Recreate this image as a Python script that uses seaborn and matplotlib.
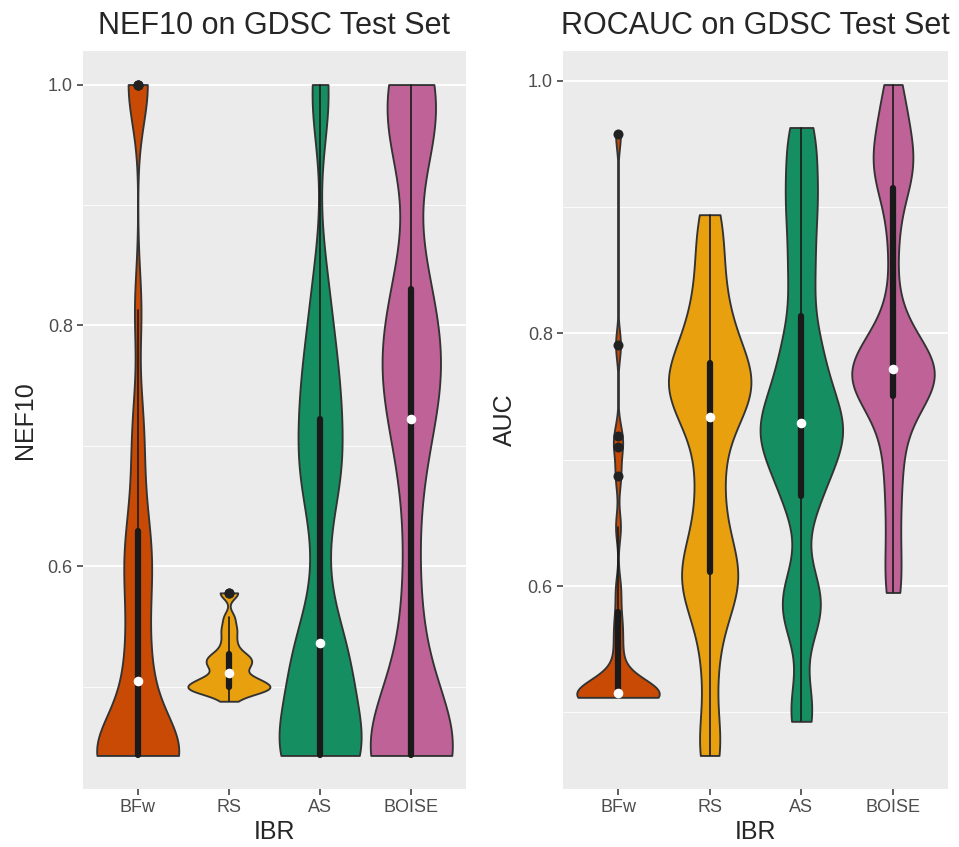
import numpy as np
import pandas as pd
import seaborn as sns
import matplotlib.pyplot as plt
from matplotlib.cbook import boxplot_stats

methods = ["BFw", "RS", "AS", "BOISE"]
fills = ["#C94A04", "#E8A00F", "#158F61", "#BF6297"]

# NEF10 per drug on the GDSC test set
nef10_bfw = [0.443] * 12 + [0.485, 0.500, 0.510, 0.532, 0.556, 0.578, 0.597, 0.611,
                            0.622, 0.650, 0.690, 0.725, 0.813, 1.0, 1.0, 1.0]
nef10_rs = [0.488, 0.495, 0.496, 0.497, 0.498, 0.498, 0.499, 0.500, 0.501, 0.503,
            0.505, 0.506, 0.507, 0.508, 0.515, 0.516, 0.518, 0.521, 0.523, 0.525,
            0.526, 0.531, 0.537, 0.544, 0.550, 0.558, 0.578, 0.578]
nef10_as = [0.443] * 8 + [0.478, 0.497, 0.510, 0.520, 0.527, 0.532, 0.540, 0.598,
                          0.655, 0.672, 0.684, 0.694, 0.716, 0.740, 0.752, 0.768,
                          0.800, 0.835, 0.985, 1.0]
nef10_boise = [0.443] * 8 + [0.472, 0.505, 0.540, 0.600, 0.672, 0.706, 0.738, 0.748,
                             0.758, 0.770, 0.785, 0.805, 0.825, 0.845, 0.950, 0.965,
                             0.980, 0.990, 1.0, 1.0]

# ROC AUC per drug on the GDSC test set
auc_bfw = [0.512, 0.512, 0.513, 0.513, 0.513, 0.513, 0.513, 0.514, 0.514, 0.514,
           0.514, 0.514, 0.515, 0.515, 0.516, 0.519, 0.524, 0.531, 0.545, 0.560,
           0.574, 0.597, 0.647, 0.687, 0.710, 0.719, 0.791, 0.958]
auc_rs = [0.466, 0.482, 0.531, 0.568, 0.588, 0.598, 0.604, 0.614, 0.622, 0.634,
          0.660, 0.680, 0.706, 0.727, 0.741, 0.748, 0.753, 0.758, 0.763, 0.768,
          0.773, 0.786, 0.797, 0.810, 0.828, 0.850, 0.875, 0.894]
auc_as = [0.493, 0.509, 0.570, 0.580, 0.590, 0.605, 0.660, 0.675, 0.688, 0.700,
          0.710, 0.716, 0.721, 0.726, 0.732, 0.741, 0.751, 0.762, 0.775, 0.790,
          0.806, 0.838, 0.858, 0.885, 0.905, 0.922, 0.948, 0.963]
auc_boise = [0.595, 0.615, 0.650, 0.680, 0.705, 0.726, 0.746, 0.752, 0.758, 0.763,
             0.766, 0.769, 0.770, 0.771, 0.773, 0.778, 0.786, 0.795, 0.818, 0.870,
             0.912, 0.925, 0.930, 0.938, 0.948, 0.962, 0.980, 0.997]

panels = [
    ("NEF10 on GDSC Test Set", "NEF10", [nef10_bfw, nef10_rs, nef10_as, nef10_boise]),
    ("ROCAUC on GDSC Test Set", "AUC", [auc_bfw, auc_rs, auc_as, auc_boise]),
]


def nrd0(kde):
    # R's bw.nrd0, given back as a factor of the sample sd (what scipy wants)
    x = kde.dataset[0]
    sd = x.std(ddof=1)
    q1, q3 = np.percentile(x, [25, 75])
    return 0.9 * min(sd, (q3 - q1) / 1.34) * len(x) ** -0.2 / sd


sns.set_theme(style="darkgrid", rc={
    "axes.facecolor": "#EBEBEB",
    "grid.color": "white",
    "grid.linewidth": 1.3,
    "xtick.bottom": True, "ytick.left": True,
    "xtick.major.size": 4.3, "ytick.major.size": 4.3,
    "xtick.major.width": 1.1, "ytick.major.width": 1.1,
    "xtick.major.pad": 3, "ytick.major.pad": 3,
    "xtick.color": "#333333", "ytick.color": "#333333",
    "xtick.labelcolor": "#4D4D4D", "ytick.labelcolor": "#4D4D4D",
})
plt.rcParams["font.family"] = ["Liberation Sans", "DejaVu Sans"]

fig = plt.figure(figsize=(9.59, 8.47), dpi=100)
for (title, ylab, groups), left, w in zip(panels, [83, 563], [383, 385]):
    ax = fig.add_axes([left / 959, 1 - 789 / 847, w / 959, 738 / 847])
    df = pd.DataFrame({"IBR": np.repeat(methods, [len(g) for g in groups]),
                       "value": np.concatenate(groups)})
    sns.violinplot(data=df, x="IBR", y="value", hue="IBR", order=methods,
                   hue_order=methods, palette=fills, saturation=1,
                   density_norm="width", cut=0, width=0.9, gridsize=512,
                   bw_method=nrd0, bw_adjust=0.5, inner="box",
                   inner_kws=dict(box_width=4.5, whis_width=1.2, marker="o",
                                  markersize=6, color="#1A1A1A"),
                   linecolor="#333333", linewidth=1.35, legend=False, ax=ax)
    # outliers, as ggplot's boxplot shows them
    for i, g in enumerate(groups):
        fl = boxplot_stats(np.asarray(g))[0]["fliers"]
        ax.scatter(np.full(len(fl), i), fl, s=52, color="#222222",
                   linewidths=0, zorder=5)
    allv = np.concatenate(groups)
    pad = 0.05 * (allv.max() - allv.min())
    ax.set_ylim(allv.min() - pad, allv.max() + pad)
    ax.set_xlim(-0.6, 3.6)
    ax.set_yticks([0.6, 0.8, 1.0])
    ax.set_yticklabels(["0.6", "0.8", "1.0"])
    ax.set_yticks([0.5, 0.7, 0.9], minor=True)
    ax.grid(which="minor", axis="y", color="white", linewidth=0.6)
    ax.tick_params(which="minor", length=0)
    ax.tick_params(labelsize=13)
    for s in ax.spines.values():
        s.set_visible(False)
    ax.set_title(title, fontsize=22, pad=12)
    ax.set_xlabel("IBR", fontsize=18, labelpad=3)
    ax.set_ylabel(ylab, fontsize=18, labelpad=8)

fig.savefig("out.png", dpi=100)
